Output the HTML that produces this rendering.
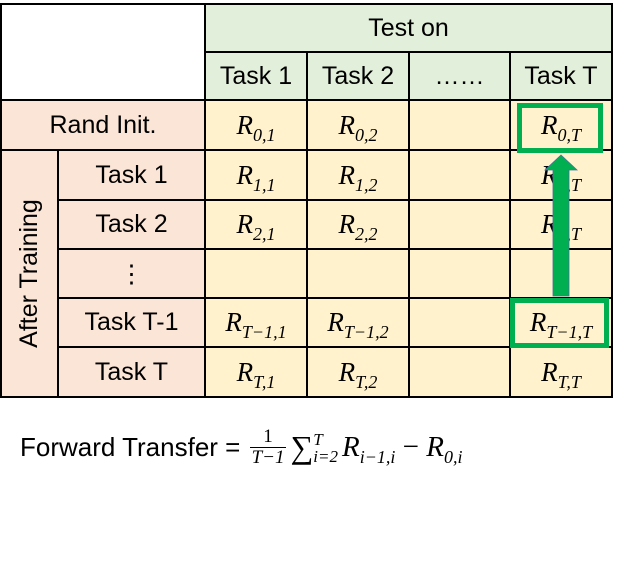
<!DOCTYPE html>
<html><head><meta charset="utf-8"><style>
body{margin:0;width:633px;height:565px;background:#fff;position:relative;overflow:hidden;font-family:"Liberation Sans",sans-serif}
.c{position:absolute;box-sizing:border-box;display:flex;align-items:center;justify-content:center;font-size:25px;color:#000}
.g{background:#e2efda}.o{background:#fbe5d6}.y{background:#fff2cc}
.m{font-family:"Liberation Serif",serif;font-style:italic;font-size:27px}
.m sub{font-size:18px;vertical-align:-7px;line-height:0}
.h{position:absolute;background:#000;height:2px}
.v{position:absolute;background:#000;width:2px}
</style></head><body>
<div class="c g" style="left:205px;top:4px;width:407px;height:96px"></div>
<div class="c o" style="left:1px;top:100px;width:204px;height:297px"></div>
<div class="c y" style="left:205px;top:100px;width:407px;height:297px"></div>
<div class="h" style="left:1px;top:3px;width:612px"></div>
<div class="h" style="left:205px;top:51px;width:407px"></div>
<div class="h" style="left:1px;top:99px;width:612px"></div>
<div class="h" style="left:1px;top:149px;width:612px"></div>
<div class="h" style="left:58px;top:199px;width:554px"></div>
<div class="h" style="left:58px;top:248px;width:554px"></div>
<div class="h" style="left:58px;top:297px;width:554px"></div>
<div class="h" style="left:58px;top:346px;width:554px"></div>
<div class="h" style="left:1px;top:396px;width:612px"></div>
<div class="v" style="left:0px;top:3px;height:395px"></div>
<div class="v" style="left:57px;top:150px;height:247px"></div>
<div class="v" style="left:204px;top:3px;height:395px"></div>
<div class="v" style="left:306px;top:51px;height:347px"></div>
<div class="v" style="left:408px;top:51px;height:347px"></div>
<div class="v" style="left:509px;top:51px;height:347px"></div>
<div class="v" style="left:611px;top:3px;height:395px"></div>
<div class="c" style="left:205px;top:4px;width:407px;height:48px">Test on</div>
<div class="c" style="left:205px;top:52px;width:102px;height:48px">Task 1</div>
<div class="c" style="left:307px;top:52px;width:102px;height:48px">Task 2</div>
<div class="c" style="left:409px;top:52px;width:101px;height:48px">……</div>
<div class="c" style="left:510px;top:52px;width:102px;height:48px">Task T</div>
<div class="c" style="left:1px;top:100px;width:204px;height:50px">Rand Init.</div>
<div class="c" style="left:1px;top:150px;width:57px;height:247px"><div style="transform:rotate(-90deg);white-space:nowrap">After Training</div></div>
<div class="c" style="left:58px;top:150px;width:147px;height:50px">Task 1</div>
<div class="c" style="left:58px;top:200px;width:147px;height:49px">Task 2</div>
<div class="c" style="left:58px;top:249px;width:147px;height:49px">⋮</div>
<div class="c" style="left:58px;top:298px;width:147px;height:49px">Task T-1</div>
<div class="c" style="left:58px;top:347px;width:147px;height:50px">Task T</div>
<div class="c m" style="left:205px;top:100px;width:102px;height:50px"><span>R<sub>0,1</sub></span></div>
<div class="c m" style="left:307px;top:100px;width:102px;height:50px"><span>R<sub>0,2</sub></span></div>
<div class="c m" style="left:510px;top:100px;width:102px;height:50px"><span>R<sub>0,T</sub></span></div>
<div class="c m" style="left:205px;top:150px;width:102px;height:50px"><span>R<sub>1,1</sub></span></div>
<div class="c m" style="left:307px;top:150px;width:102px;height:50px"><span>R<sub>1,2</sub></span></div>
<div class="c m" style="left:510px;top:150px;width:102px;height:50px"><span>R<sub>1,T</sub></span></div>
<div class="c m" style="left:205px;top:200px;width:102px;height:49px"><span>R<sub>2,1</sub></span></div>
<div class="c m" style="left:307px;top:200px;width:102px;height:49px"><span>R<sub>2,2</sub></span></div>
<div class="c m" style="left:510px;top:200px;width:102px;height:49px"><span>R<sub>2,T</sub></span></div>
<div class="c m" style="left:205px;top:298px;width:102px;height:49px"><span>R<sub>T−1,1</sub></span></div>
<div class="c m" style="left:307px;top:298px;width:102px;height:49px"><span>R<sub>T−1,2</sub></span></div>
<div class="c m" style="left:510px;top:298px;width:102px;height:49px"><span>R<sub>T−1,T</sub></span></div>
<div class="c m" style="left:205px;top:347px;width:102px;height:50px"><span>R<sub>T,1</sub></span></div>
<div class="c m" style="left:307px;top:347px;width:102px;height:50px"><span>R<sub>T,2</sub></span></div>
<div class="c m" style="left:510px;top:347px;width:102px;height:50px"><span>R<sub>T,T</sub></span></div>
<svg style="position:absolute;left:0;top:0" width="633" height="565">
<rect x="519.5" y="105.5" width="81" height="45" fill="none" stroke="#00b050" stroke-width="5"/>
<rect x="512.5" y="300.5" width="94" height="45" fill="none" stroke="#00b050" stroke-width="5"/>
<polygon points="553,296 569,296 569,170 577,170 561,155 545,170 553,170" fill="#00b050" stroke="#41719c" stroke-width="0.8"/>
</svg>
<div style="position:absolute;left:20px;top:427px;font-size:26px;white-space:nowrap;display:flex;align-items:center">
<span>Forward Transfer =&nbsp;</span>
<span style="display:inline-flex;flex-direction:column;align-items:center;font-family:'Liberation Serif',serif;font-size:19px;line-height:20px;margin:0 2px"><span>1</span><span style="border-top:1.5px solid #000;font-style:italic;padding:0 2px">T−1</span></span>
<span style="font-family:'Liberation Serif',serif;font-size:32px;margin-left:2px">∑</span>
<span style="display:inline-flex;flex-direction:column;font-family:'Liberation Serif',serif;font-size:17px;font-style:italic;line-height:17px;margin-right:4px"><span>T</span><span>i=2</span></span>
<span class="m" style="font-size:29px">R<sub>i−1,i</sub> <span style="font-style:normal">−</span> R<sub>0,i</sub></span>
</div>
</body></html>
